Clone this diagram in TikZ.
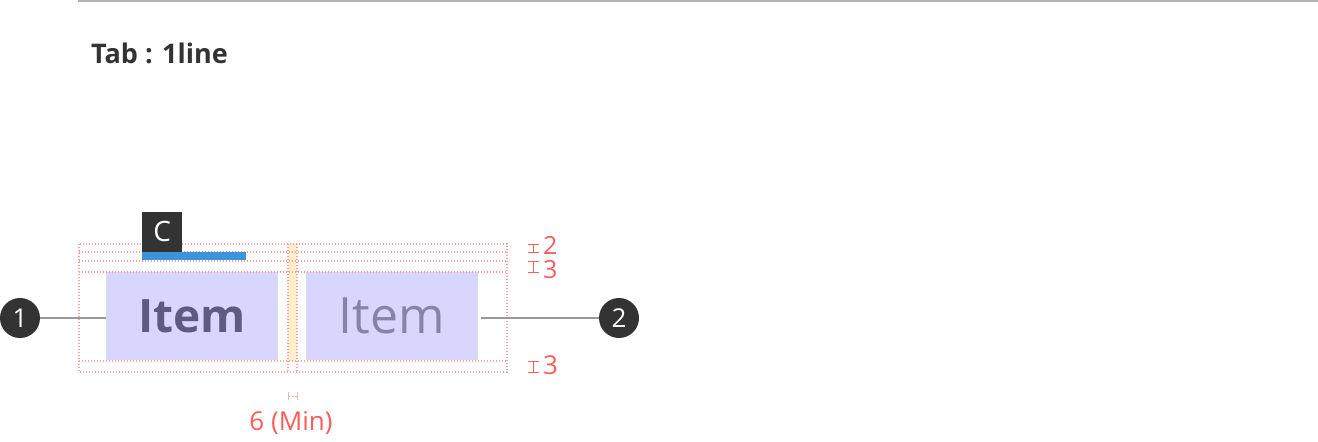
\documentclass[tikz,border=0pt]{standalone}
\usepackage{fontspec}
\setmainfont{Open Sans}
\definecolor{guide}{HTML}{FF9C9C}
\definecolor{dimred}{HTML}{FF5C5C}
\definecolor{itembg}{HTML}{D9D6FE}
\definecolor{itemsel}{HTML}{5D5B82}
\definecolor{itemun}{HTML}{8583A8}
\definecolor{dark}{HTML}{333333}
\definecolor{leader}{HTML}{999999}
\definecolor{gapfill}{HTML}{FFEECC}
\definecolor{indic}{HTML}{3A95DB}
\tikzset{
  guideline/.style={draw=guide, line width=1.1pt, dash pattern=on 1.4pt off 1.6pt},
  itembox/.style={fill=itembg, draw=none, minimum width=172pt, minimum height=88pt, inner sep=0pt},
  callout/.style={circle, fill=dark, text=white, minimum size=40pt, inner sep=0pt, font=\fontsize{26}{28}\selectfont},
  leaderline/.style={draw=leader, line width=1.8pt},
  dimtext/.style={text=dimred, inner sep=0pt, font=\fontsize{26}{28}\selectfont},
  dimmark/.style={draw=dimred, line width=0.9pt},
}
\begin{document}
\begin{tikzpicture}[x=1pt,y=-1pt]
\useasboundingbox (0,0) rectangle (1318,442);
% top rule
\draw[draw=black!30, line width=2pt] (78,1) -- (1318,1);
% title
\node[anchor=base west, inner sep=0pt, text=dark, font=\fontsize{27}{30}\selectfont\bfseries] (title) at (91,63) {Tab : 1line};
% gap fill
\fill[gapfill] (288,244) rectangle (297,361);
% items
\node[itembox] (item1) at (192,316) {};
\node[itembox] (item2) at (392,316) {};
\node[text=itemsel, inner sep=0pt, font=\fontsize{46}{52}\selectfont\bfseries] (t1) at (item1.center) {Item};
\node[text=itemun, inner sep=0pt, font=\fontsize{50}{56}\selectfont] (t2) at (item2.center) {Item};
% guides
\draw[guideline] (79,244) rectangle (507,372);
\foreach \yy in {252,261,272,361} \draw[guideline] (79,\yy) -- (507,\yy);
\draw[guideline] (288,244) -- (288,372);
\draw[guideline] (297,244) -- (297,372);
% indicator
\fill[indic] (142,252) rectangle (246,260);
\node[fill=dark, text=white, minimum width=40pt, minimum height=40pt, inner sep=0pt, anchor=south west, font=\fontsize{28}{30}\selectfont] (c) at (142,252) {C};
% callouts
\node[callout] (n1) at (20,318) {1};
\node[callout] (n2) at (619,318) {2};
\draw[leaderline] (n1.east) -- (item1.west |- n1.east);
\draw[leaderline] (item2.east |- n2.west) ++(3,0) -- (n2.west);
% dimension marks right
\draw[dimmark] (528,244) -- (539,244) (533,244) -- (533,252) (528,252) -- (539,252);
\draw[dimmark] (528,261) -- (539,261) (533,261) -- (533,272) (528,272) -- (539,272);
\draw[dimmark] (528,361) -- (539,361) (533,361) -- (533,372) (528,372) -- (539,372);
\node[dimtext, anchor=base west, font=\fontsize{25}{28}\selectfont] (d1) at (543,254) {2};
\node[dimtext, anchor=base west, font=\fontsize{25}{28}\selectfont] (d2) at (543,278) {3};
\node[dimtext, anchor=base west] (d3) at (543,374) {3};
% bottom dimension
\draw[draw=guide!80, line width=0.9pt] (288,392) -- (288,400) (297,392) -- (297,400);
\draw[draw=guide!80, line width=0.9pt, dash pattern=on 2pt off 1.5pt] (288,396) -- (297,396);
\node[dimtext] (d4) at (291,423) {6 (Min)};
\end{tikzpicture}
\end{document}
